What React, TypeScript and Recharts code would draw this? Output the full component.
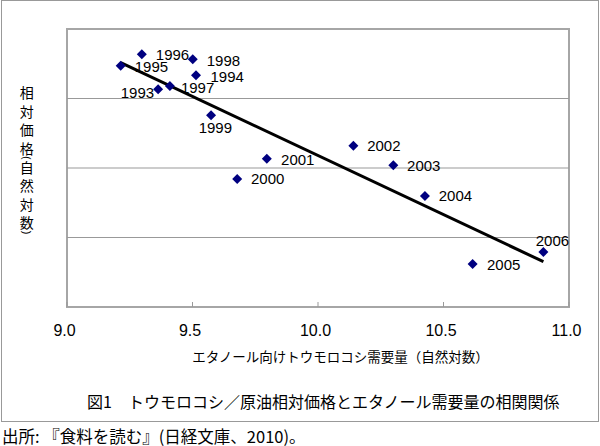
import {
  Label,
  LabelList,
  ReferenceArea,
  ReferenceLine,
  Scatter,
  ScatterChart,
  XAxis,
  YAxis,
} from "recharts";

const years = [1993, 1994, 1995, 1996, 1997, 1998, 1999, 2000, 2001, 2002, 2003, 2004, 2005, 2006];
// ethanol corn demand (natural log)
const demand = [9.363, 9.514, 9.214, 9.298, 9.41, 9.501, 9.574, 9.678, 9.796, 10.141, 10.3, 10.426, 10.616, 10.898];
// corn / crude oil relative price (natural log, arbitrary offset)
const relPrice = [3.132, 3.334, 3.472, 3.636, 3.18, 3.563, 2.758, 1.842, 2.134, 2.321, 2.039, 1.597, 0.619, 0.791];

const trendX = [9.214, 10.898];
const trendY = [3.515, 0.652];

const xTicks = [9.0, 9.5, 10.0, 10.5, 11.0];
const yGrid = [1, 2, 3];

const xTitle = "エタノール向けトウモロコシ需要量（自然対数）";
const yTitle = "相対価格(自然対数)";
const caption = "図1　トウモロコシ／原油相対価格とエタノール需要量の相関関係";
const source = "出所: 『食料を読む』(日経文庫、2010)。";

const points = years.map((year, i) => ({ year, x: demand[i], y: relPrice[i] }));
const trend = trendX.map((x, i) => ({ x, y: trendY[i] }));

// where each year label sits relative to its marker
const labelPlacement: Record<number, { dx: number; dy: number; anchor: "start" | "middle" | "end" }> = {
  1993: { dx: -4, dy: 3.4, anchor: "end" },
  1994: { dx: 14.5, dy: 1.4, anchor: "start" },
  1995: { dx: 14, dy: 0.5, anchor: "start" },
  1996: { dx: 14, dy: 0.7, anchor: "start" },
  1997: { dx: 11, dy: 1.3, anchor: "start" },
  1998: { dx: 14, dy: 1.4, anchor: "start" },
  1999: { dx: 4.3, dy: 12.4, anchor: "middle" },
  2000: { dx: 13.8, dy: 0, anchor: "start" },
  2001: { dx: 14.3, dy: 0.6, anchor: "start" },
  2002: { dx: 13.8, dy: 0, anchor: "start" },
  2003: { dx: 13.8, dy: 0, anchor: "start" },
  2004: { dx: 13.8, dy: 0, anchor: "start" },
  2005: { dx: 14.4, dy: 0.3, anchor: "start" },
  2006: { dx: 9, dy: -11.3, anchor: "middle" },
};

const LATIN = "'Liberation Sans', Arial, sans-serif";
const JP = "'Noto Sans CJK JP', sans-serif";

const Diamond = (props: any) => {
  const { cx, cy } = props;
  const r = 5;
  return (
    <polygon
      points={`${cx},${cy - r} ${cx + r},${cy} ${cx},${cy + r} ${cx - r},${cy}`}
      fill="#000080"
    />
  );
};

const NoShape = () => <g />;

const YearLabel = (props: any) => {
  const vb = props.viewBox ?? props;
  const cx = vb.x + (vb.width ?? 0) / 2;
  const cy = vb.y + (vb.height ?? 0) / 2;
  const place = labelPlacement[props.value] ?? { dx: 14, dy: 0, anchor: "start" };
  return (
    <text
      x={cx + place.dx}
      y={cy + place.dy + 5.4}
      textAnchor={place.anchor}
      fontSize={15}
      fontFamily={LATIN}
      fill="#000"
    >
      {props.value}
    </text>
  );
};

const XTick = (props: any) => {
  const { x, y, payload } = props;
  return (
    <g>
      <line x1={x} x2={x} y1={y} y2={y - 5} stroke="#999" strokeWidth={1} />
      <text x={x - 2.5} y={y + 29.4} textAnchor="middle" fontSize={16} fontFamily={LATIN} fill="#000">
        {Number(payload.value).toFixed(1)}
      </text>
    </g>
  );
};

const XTitle = (props: any) => {
  const vb = props.viewBox;
  return (
    <text
      x={vb.x + vb.width / 2 + 22.5}
      y={vb.y + 55}
      textAnchor="middle"
      fontSize={13.5}
      fontFamily={JP}
      fill="#000"
    >
      {xTitle}
    </text>
  );
};

// vertical axis title, one glyph per row; the parentheses are turned sideways
const YTitle = () => {
  const x = 26.7;
  let pos = 93;
  let prevH = 0;
  const chars = Array.from(yTitle).map((ch, i) => {
    const isParen = ch === "(" || ch === ")";
    const h = isParen ? 1 : 18.4;
    if (i > 0) pos += (prevH + h) / 2;
    prevH = h;
    if (isParen) {
      return (
        <text
          key={i}
          x={0}
          y={0}
          transform={`translate(${x},${pos}) rotate(90)`}
          textAnchor="middle"
          dominantBaseline="central"
          fontSize={11}
          fontFamily={LATIN}
          fill="#000"
        >
          {ch}
        </text>
      );
    }
    return (
      <text key={i} x={x} y={pos + 5.3} textAnchor="middle" fontSize={14} fontFamily={JP} fill="#000">
        {ch}
      </text>
    );
  });
  return (
    <svg width={60} height={260} style={{ position: "absolute", left: 0, top: 0 }}>
      {chars}
    </svg>
  );
};

export default function App() {
  return (
    <div
      style={{
        position: "absolute",
        left: 0,
        top: 0,
        width: 600,
        height: 446,
        background: "#fff",
        overflow: "hidden",
      }}
    >
      <div
        style={{
          position: "absolute",
          left: 1,
          top: 0,
          width: 598,
          height: 422,
          border: "1px solid #999",
          boxSizing: "border-box",
        }}
      />
      <YTitle />
      <div style={{ position: "absolute", left: 0, top: 0 }}>
        <ScatterChart width={600} height={380} margin={{ top: 29, right: 31, bottom: 0, left: 67 }}>
          <XAxis
            type="number"
            dataKey="x"
            domain={[9, 11]}
            ticks={xTicks}
            allowDataOverflow
            height={73}
            axisLine={false}
            tickLine={false}
            tickSize={0}
            tickMargin={0}
            tick={<XTick />}
            interval={0}
          >
            <Label content={<XTitle />} />
          </XAxis>
          <YAxis
            type="number"
            dataKey="y"
            domain={[0, 4]}
            allowDataOverflow
            width={0}
            axisLine={false}
            tickLine={false}
            tick={false}
          />
          {yGrid.map((v) => (
            <ReferenceLine key={v} y={v} stroke="#999" strokeWidth={1} />
          ))}
          <ReferenceArea x1={9} x2={11} y1={0} y2={4} fill="none" stroke="#a6a6a6" strokeWidth={2} />
          <Scatter
            data={trend}
            line={{ stroke: "#000", strokeWidth: 3 }}
            shape={<NoShape />}
            isAnimationActive={false}
            legendType="none"
          />
          <Scatter data={points} shape={<Diamond />} isAnimationActive={false}>
            <LabelList dataKey="year" content={<YearLabel />} />
          </Scatter>
        </ScatterChart>
      </div>
      <div
        style={{
          position: "absolute",
          left: 87,
          top: 393,
          fontSize: 16,
          lineHeight: "16px",
          fontFamily: JP,
          whiteSpace: "nowrap",
          color: "#000",
        }}
      >
        {caption}
      </div>
      <div
        style={{
          position: "absolute",
          left: 2,
          top: 428,
          fontSize: 16.5,
          lineHeight: "16.5px",
          fontFamily: JP,
          whiteSpace: "nowrap",
          color: "#000",
        }}
      >
        {source}
      </div>
    </div>
  );
}
